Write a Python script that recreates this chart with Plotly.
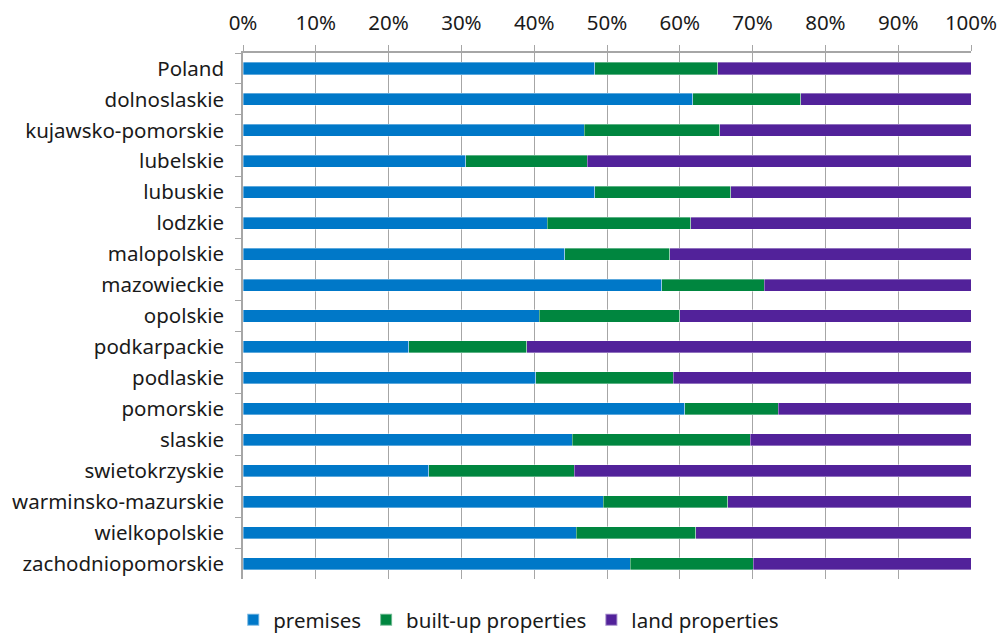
import plotly.graph_objects as go

regions = ["Poland", "dolnoslaskie", "kujawsko-pomorskie", "lubelskie", "lubuskie",
           "lodzkie", "malopolskie", "mazowieckie", "opolskie", "podkarpackie",
           "podlaskie", "pomorskie", "slaskie", "swietokrzyskie",
           "warminsko-mazurskie", "wielkopolskie", "zachodniopomorskie"]

premises = [48.3, 61.8, 46.9, 30.6, 48.3, 41.8, 44.2, 57.5, 40.7, 22.8,
            40.2, 60.7, 45.2, 25.5, 49.5, 45.8, 53.2]
built_up = [16.9, 14.8, 18.6, 16.7, 18.7, 19.7, 14.4, 14.1, 19.3, 16.2,
            18.9, 12.8, 24.5, 20.0, 17.1, 16.4, 16.9]
land = [round(100 - p - b, 1) for p, b in zip(premises, built_up)]

series = [("premises", premises, "#0078C8"),
          ("built-up properties", built_up, "#00863F"),
          ("land properties", land, "#52229A")]

fig = go.Figure()
for name, vals, color in series:
    fig.add_trace(go.Bar(
        y=regions, x=[v / 100 for v in vals], name=name, orientation="h",
        marker=dict(color=color, line=dict(color="rgba(255,255,255,0.45)", width=0.8)),
        hoverinfo="x+y+name",
    ))

FONT = "Noto Sans"
FS = 20.5
fig.update_layout(
    barmode="stack",
    bargap=0.61,
    width=997, height=637,
    margin=dict(l=243, r=26, t=53, b=58, autoexpand=False),
    paper_bgcolor="white", plot_bgcolor="white",
    font=dict(family=FONT, size=FS, color="#1a1a1a"),
    showlegend=True,
    legend=dict(orientation="h", x=0.365, xanchor="center", y=-0.078, yanchor="middle",
                font=dict(size=FS), itemwidth=30, traceorder="normal",
                itemsizing="constant", tracegroupgap=0),
    xaxis=dict(range=[0, 1], side="top", tickformat=".0%", dtick=0.1, tick0=0,
               showgrid=True, gridcolor="#A6A6A6", gridwidth=1,
               showline=True, linecolor="#A6A6A6", linewidth=1.5,
               ticks="outside", ticklen=6, tickcolor="#A6A6A6",
               ticklabelstandoff=7, ticklabeloverflow="allow",
               zeroline=False, fixedrange=True, automargin=False),
    yaxis=dict(type="category", autorange="reversed", tickson="boundaries",
               showgrid=False, showline=True, linecolor="#A6A6A6", linewidth=1.5,
               ticks="outside", ticklen=6, tickcolor="#A6A6A6",
               ticklabelstandoff=13, fixedrange=True, automargin=False),
)

fig.write_html("out.html", config={"displayModeBar": False},
               post_script="document.body.style.margin='0';")
